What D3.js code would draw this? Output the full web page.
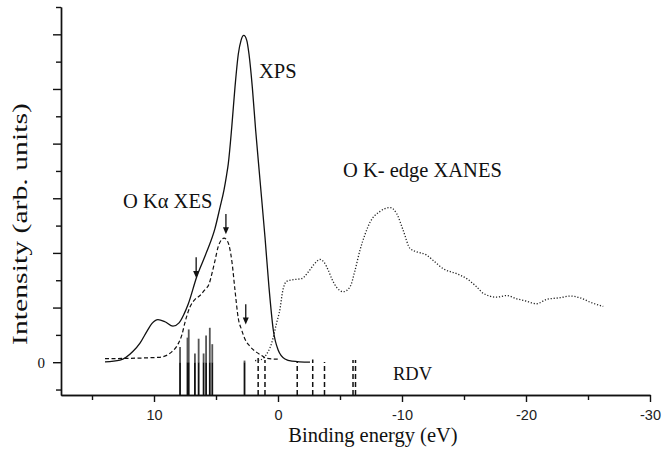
<!DOCTYPE html>
<html>
<head>
<meta charset="utf-8">
<script src="https://cdn.jsdelivr.net/npm/d3@7"></script>
<style>
  html, body { margin: 0; padding: 0; background: #fff; }
  svg { display: block; }
  .serif { font-family: "Liberation Serif", "Times New Roman", serif; fill: #111; }
  .sans { font-family: "Liberation Sans", Arial, sans-serif; }
</style>
</head>
<body>
<svg id="chart" width="663" height="461"></svg>
<script>
// ---------------------------------------------------------------------------
// Values (binding energy in eV, intensity in arb. u.)
// ---------------------------------------------------------------------------
const XPS_E = [13.95, 12.74, 11.69, 11.13, 10.56, 10.16, 9.68, 9.11, 8.47, 7.98, 7.58,
  7.23, 6.56, 5.75, 5.08, 4.68, 4.35, 4.15, 4.01, 3.73, 3.47, 3.20, 2.98, 2.76,
  2.52, 2.34, 2.07, 1.80, 1.45, 1.05, 0.73, 0.38, -0.02, -0.56, -1.13, -2.58];
const XPS_I = [0.005, 0.037, 0.20, 0.35, 0.57, 0.71, 0.78, 0.74, 0.66, 0.72, 0.88,
  1.07, 1.56, 2.02, 2.45, 2.83, 3.16, 3.42, 3.63, 4.30, 5.03, 5.64, 5.89, 5.98,
  5.89, 5.64, 5.03, 4.24, 3.33, 2.29, 1.38, 0.59, 0.22, 0.06, 0.02, 0.0];

const XES_E = [13.95, 9.52, 9.03, 8.57, 8.04, 7.74, 7.50, 7.10, 6.69, 6.29, 5.89,
  5.56, 5.32, 5.08, 4.84, 4.56, 4.35, 4.15, 3.95, 3.71, 3.47, 3.20, 2.93, 2.66,
  2.26, 1.72, 1.37, 0.91, 0.0];
const XES_I = [0.064, 0.09, 0.12, 0.19, 0.34, 0.51, 0.73, 1.01, 1.15, 1.22, 1.33,
  1.43, 1.63, 1.86, 2.10, 2.24, 2.27, 2.24, 2.14, 1.83, 1.32, 0.80, 0.59, 0.42,
  0.29, 0.18, 0.13, 0.07, 0.055];

const XANES_E = [1.85, 1.45, 0.97, 0.51, 0.10, -0.16, -0.36, -0.70, -1.23, -1.91,
  -2.44, -2.90, -3.39, -3.71, -4.06, -4.35, -4.73, -5.27, -5.81, -6.21, -6.61,
  -7.02, -7.42, -8.23, -9.03, -9.57, -10.10, -10.65, -11.19, -11.99, -12.52,
  -13.33, -14.41, -15.22, -16.02, -16.56, -17.64, -18.44, -19.25, -20.0, -20.86,
  -21.67, -22.74, -23.55, -24.35, -25.16, -26.23];
const XANES_I = [0.03, 0.04, 0.13, 0.35, 0.73, 0.97, 1.28, 1.48, 1.51, 1.53,
  1.65, 1.79, 1.88, 1.83, 1.68, 1.52, 1.37, 1.29, 1.38, 1.68, 2.05,
  2.34, 2.56, 2.76, 2.83, 2.72, 2.41, 2.08, 2.02, 1.96, 1.86,
  1.71, 1.62, 1.53, 1.38, 1.26, 1.19, 1.22, 1.16, 1.12, 1.07,
  1.15, 1.18, 1.21, 1.18, 1.10, 1.02];

// RDV levels: occupied (solid) and unoccupied (dashed)
const RDV_OCC_E = [7.9, 7.3, 7.2, 6.7, 6.4, 6.0, 5.8, 5.5, 5.3, 2.7];
const RDV_OCC_H = [0.28, 0.45, 0.60, 0.16, 0.43, 0.16, 0.49, 0.63, 0.33, 0.03];
const RDV_UNOCC_E = [1.6, 1.05, -1.55, -2.8, -3.75, -6.05, -6.25];
const RDV_UNOCC_H = [0.09, 0.04, 0.005, 0.05, 0.005, 0.04, 0.04];

// Arrows marking XES features: energy, top, tip (intensity units)
const ARROW_E = [6.6, 4.2, 2.6];
const ARROW_TOP = [1.92, 2.71, 1.06];
const ARROW_TIP = [1.54, 2.34, 0.69];

const X_MAJOR = [10, 0, -10, -20, -30];
const X_MINOR = [15, 5, -5, -15, -25];
const Y_MAJOR = [0, 1, 2, 3, 4, 5, 6];
const Y_MINOR = [-0.5, 0.5, 1.5, 2.5, 3.5, 4.5, 5.5, 6.5];

// ---------------------------------------------------------------------------
const svg = d3.select("#chart");
const x = d3.scaleLinear().domain([17.5, -30]).range([61, 650]);
const y = d3.scaleLinear().domain([-0.6, 6.5]).range([395, 7]);

const zip = (es, is) => es.map((e, i) => ({ e, v: is[i] }));
const line = d3.line().x(d => x(d.e)).y(d => y(d.v)).curve(d3.curveMonotoneX);

// RDV bars (drawn first, curves on top)
const bars = svg.append("g");
RDV_OCC_E.forEach((e, i) => {
  bars.append("line")
    .attr("x1", x(e)).attr("x2", x(e))
    .attr("y1", y(-0.6)).attr("y2", y(0))
    .attr("stroke", "#111").attr("stroke-width", 1.8);
  bars.append("line")
    .attr("x1", x(e)).attr("x2", x(e))
    .attr("y1", y(0)).attr("y2", y(RDV_OCC_H[i]))
    .attr("stroke", "#555").attr("stroke-width", 1.8);
});
RDV_UNOCC_E.forEach((e, i) => {
  bars.append("line")
    .attr("x1", x(e)).attr("x2", x(e))
    .attr("y1", y(-0.6)).attr("y2", y(RDV_UNOCC_H[i]))
    .attr("stroke", "#111").attr("stroke-width", 1.5)
    .attr("stroke-dasharray", "5,3");
});

// Spectra
svg.append("path").datum(zip(XANES_E, XANES_I))
  .attr("d", line).attr("fill", "none")
  .attr("stroke", "#222").attr("stroke-width", 1.3)
  .attr("stroke-dasharray", "1.2,1.8");
svg.append("path").datum(zip(XES_E, XES_I))
  .attr("d", line).attr("fill", "none")
  .attr("stroke", "#111").attr("stroke-width", 1.2)
  .attr("stroke-dasharray", "4,2.5");
svg.append("path").datum(zip(XPS_E, XPS_I))
  .attr("d", line).attr("fill", "none")
  .attr("stroke", "#111").attr("stroke-width", 1.3);

// Arrows
ARROW_E.forEach((e, i) => {
  const ax = x(e), y0 = y(ARROW_TOP[i]), y1 = y(ARROW_TIP[i]);
  svg.append("line")
    .attr("x1", ax).attr("x2", ax).attr("y1", y0).attr("y2", y1 - 5)
    .attr("stroke", "#111").attr("stroke-width", 1.3);
  svg.append("path")
    .attr("d", `M ${ax - 3} ${y1 - 7} L ${ax + 3} ${y1 - 7} L ${ax} ${y1} Z`)
    .attr("fill", "#111");
});

// Axes
function styleAxis(g) {
  g.selectAll(".domain").attr("stroke", "#111").attr("stroke-width", 1.4);
  g.selectAll(".tick line").attr("stroke", "#111").attr("stroke-width", 1.4);
}
svg.append("g").attr("transform", `translate(61,0)`)
  .call(d3.axisLeft(y).tickValues(Y_MINOR).tickSize(5).tickSizeOuter(0).tickFormat(""))
  .call(styleAxis);
svg.append("g").attr("transform", `translate(61,0)`)
  .call(d3.axisLeft(y).tickValues(Y_MAJOR).tickSize(8).tickSizeOuter(0)
    .tickPadding(8).tickFormat(d => d === 0 ? "0" : ""))
  .call(styleAxis)
  .call(g => g.selectAll("text").attr("class", "serif")
    .attr("font-size", 15).attr("fill", "#111").attr("font-family", null));

svg.append("g").attr("transform", `translate(0,395)`)
  .call(d3.axisBottom(x).tickValues(X_MINOR).tickSize(5).tickSizeOuter(0).tickFormat(""))
  .call(styleAxis);
svg.append("g").attr("transform", `translate(0,395)`)
  .call(d3.axisBottom(x).tickValues(X_MAJOR).tickSize(7).tickSizeOuter(0)
    .tickPadding(8).tickFormat(d => String(d)))
  .call(styleAxis)
  .call(g => g.selectAll("text").attr("class", "sans")
    .attr("font-size", 14.5).attr("fill", "#222").attr("font-family", null));

// Axis titles
svg.append("text").attr("class", "serif")
  .attr("x", 373).attr("y", 442).attr("text-anchor", "middle")
  .attr("font-size", 20.5).text("Binding energy (eV)");
svg.append("text").attr("class", "serif")
  .attr("transform", "translate(27,224) rotate(-90)")
  .attr("text-anchor", "middle").attr("font-size", 20.5)
  .attr("textLength", 242).attr("lengthAdjust", "spacingAndGlyphs")
  .text("Intensity (arb. units)");

// Curve labels
const labels = [
  { t: "XPS", x: 259, y: 78, fs: 20.5 },
  { t: "O K\u03b1 XES", x: 123, y: 208, fs: 20.5 },
  { t: "O K- edge XANES", x: 343, y: 177, fs: 20.5 },
  { t: "RDV", x: 393, y: 380, fs: 18.5 },
];
labels.forEach(l => {
  svg.append("text").attr("class", "serif")
    .attr("x", l.x).attr("y", l.y).attr("font-size", l.fs).text(l.t);
});
</script>
</body>
</html>
